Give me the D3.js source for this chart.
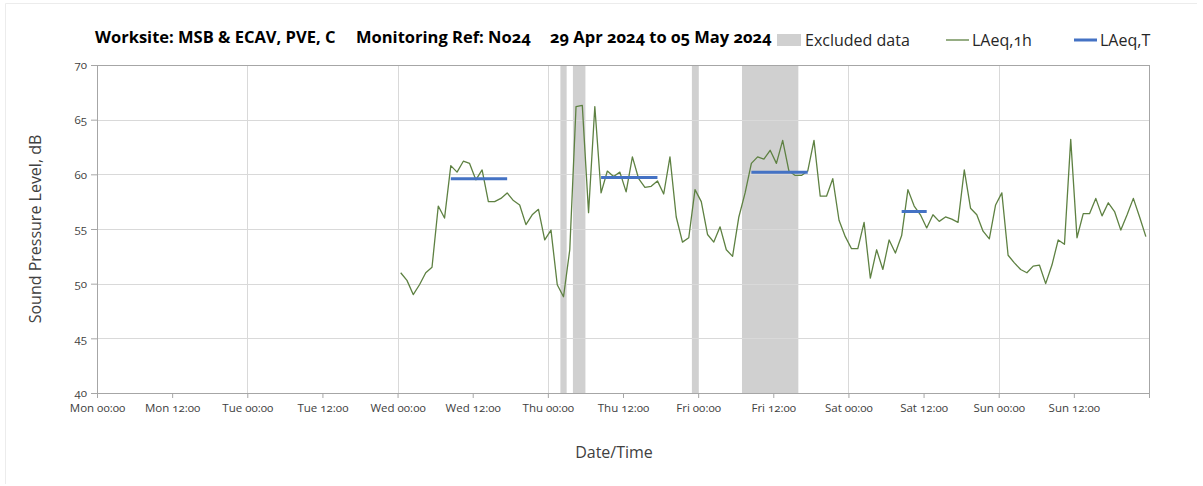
<!DOCTYPE html>
<html>
<head>
<meta charset="utf-8">
<script src="https://cdn.jsdelivr.net/npm/d3@7"></script>
<style>
  body { margin: 0; background: #fff; }
  svg text { font-family: "Open Sans", Lato, sans-serif; font-variant-numeric: oldstyle-nums; }
</style>
</head>
<body>
<div id="chart-area"></div>
<script>
/* Data */

// hourly LAeq,1h values, first hour starts Wed 01 May 2024 00:00
const laeq1hStart = new Date(2024, 4, 1, 0, 0)
const laeq1h = [
  51.0, 50.3, 49.0, 49.9, 51.0, 51.5, 57.1, 56.0, 60.8, 60.2, 61.2, 61.0,
  59.5, 60.4, 57.5, 57.5, 57.8, 58.3, 57.6, 57.2, 55.4, 56.3, 56.8, 54.0,
  54.9, 49.9, 48.8, 53.1, 66.2, 66.3, 56.5, 66.2, 58.3, 60.3, 59.8, 60.2,
  58.4, 61.6, 59.6, 58.8, 58.9, 59.4, 58.2, 61.6, 56.1, 53.8, 54.2, 58.6,
  57.5, 54.5, 53.8, 55.2, 53.1, 52.5, 56.1, 58.3, 61.0, 61.6, 61.4, 62.2,
  61.0, 63.1, 60.3, 59.9, 59.9, 60.3, 63.1, 58.0, 58.0, 59.6, 55.8, 54.3,
  53.2, 53.2, 55.6, 50.5, 53.1, 51.3, 54.0, 52.8, 54.4, 58.6, 57.1, 56.3,
  55.1, 56.3, 55.7, 56.1, 55.9, 55.6, 60.4, 56.9, 56.3, 54.8, 54.1, 57.2,
  58.3, 52.6, 51.9, 51.3, 51.0, 51.6, 51.7, 50.0, 51.7, 54.0, 53.6, 63.2,
  54.2, 56.4, 56.4, 57.8, 56.2, 57.4, 56.6, 54.9, 56.3, 57.8, 56.1, 54.3
]

// LAeq,T periods (first and last hour of each period)
const laeqTFrom = [new Date(2024, 4, 1, 8), new Date(2024, 4, 2, 8), new Date(2024, 4, 3, 8), new Date(2024, 4, 4, 8)]
const laeqTTo = [new Date(2024, 4, 1, 17), new Date(2024, 4, 2, 17), new Date(2024, 4, 3, 17), new Date(2024, 4, 4, 12)]
const laeqTValues = [59.6, 59.7, 60.2, 56.6]

// excluded data periods
const excludedFrom = [new Date(2024, 4, 2, 2), new Date(2024, 4, 2, 4), new Date(2024, 4, 2, 23), new Date(2024, 4, 3, 7)]
const excludedTo = [new Date(2024, 4, 2, 3), new Date(2024, 4, 2, 6), new Date(2024, 4, 3, 0), new Date(2024, 4, 3, 16)]

const yTicks = [40, 45, 50, 55, 60, 65, 70]
const titleParts = ["Worksite: MSB & ECAV, PVE, C", "Monitoring Ref: No24", "29 Apr 2024 to 05 May 2024"]
const legendLabels = ["Excluded data", "LAeq,1h", "LAeq,T"]

/* Chart area */

const W = 1203, H = 486
const PLOT = { LEFT: 97, RIGHT: 1149, TOP: 65, BOTTOM: 393 }
const HALF_HOUR = 30 * 60 * 1000

const svg = d3.select("#chart-area").append("svg")
  .attr("width", W)
  .attr("height", H)

// faint outer frame (top and left only, like the original)
svg.append("path")
  .attr("d", "M5.5,484 L5.5,3.5 L1197,3.5")
  .attr("fill", "none")
  .attr("stroke", "#ececec")

// scales
const x = d3.scaleTime()
  .domain([new Date(2024, 3, 29), new Date(2024, 4, 6)])
  .range([PLOT.LEFT, PLOT.RIGHT])
const y = d3.scaleLinear().domain([40, 70]).range([PLOT.BOTTOM, PLOT.TOP])

// hourly values are drawn at the middle of their hour
const xMid = d => x(new Date(+d + HALF_HOUR))

// excluded bands
svg.append("g").selectAll("rect")
  .data(d3.range(excludedFrom.length))
  .enter().append("rect")
  .attr("x", i => x(excludedFrom[i]))
  .attr("width", i => x(excludedTo[i]) - x(excludedFrom[i]))
  .attr("y", PLOT.TOP)
  .attr("height", PLOT.BOTTOM - PLOT.TOP)
  .attr("fill", "#d0d0d0")

// gridlines
svg.append("g").selectAll("line")
  .data(yTicks.slice(1, -1))
  .enter().append("line")
  .attr("x1", PLOT.LEFT).attr("x2", PLOT.RIGHT)
  .attr("y1", d => Math.round(y(d)) + 0.5).attr("y2", d => Math.round(y(d)) + 0.5)
  .attr("stroke", "#d9d9d9")

svg.append("g").selectAll("line")
  .data(d3.timeDay.range(new Date(2024, 3, 30), new Date(2024, 4, 6)))
  .enter().append("line")
  .attr("x1", d => Math.round(x(d)) + 0.5).attr("x2", d => Math.round(x(d)) + 0.5)
  .attr("y1", PLOT.TOP).attr("y2", PLOT.BOTTOM)
  .attr("stroke", "#d9d9d9")

// plot border
svg.append("rect")
  .attr("x", PLOT.LEFT + 0.5).attr("y", PLOT.TOP + 0.5)
  .attr("width", PLOT.RIGHT - PLOT.LEFT).attr("height", PLOT.BOTTOM - PLOT.TOP)
  .attr("fill", "none")
  .attr("stroke", "#a6a6a6")

// axes
const xAxisCall = d3.axisBottom(x)
  .ticks(d3.timeHour.every(12))
  .tickFormat(d3.timeFormat("%a %H:%M"))
  .tickSize(5)
  .tickSizeOuter(0)
const yAxisCall = d3.axisLeft(y)
  .tickValues(yTicks)
  .tickSize(6)
  .tickSizeOuter(0)

const xAxis = svg.append("g")
  .attr("transform", `translate(0, ${PLOT.BOTTOM})`)
  .call(xAxisCall)
xAxis.selectAll("text")
  .filter((d, i, n) => i === n.length - 1)
  .remove()
const yAxis = svg.append("g")
  .attr("transform", `translate(${PLOT.LEFT}, 0)`)
  .call(yAxisCall)

;[xAxis, yAxis].forEach(a => {
  a.select(".domain").attr("stroke", "#a6a6a6")
  a.selectAll(".tick line").attr("stroke", "#a6a6a6")
  a.selectAll(".tick text")
    .attr("fill", "#404040")
    .style("font-size", "11.5px")
})
xAxis.selectAll(".tick text").attr("y", 11)
yAxis.selectAll(".tick text").attr("x", -10)

// axis titles
svg.append("text")
  .attr("transform", "translate(41, 229) rotate(-90)")
  .attr("text-anchor", "middle")
  .attr("fill", "#404040")
  .style("font-size", "16px")
  .text("Sound Pressure Level, dB")

svg.append("text")
  .attr("x", 614).attr("y", 458)
  .attr("text-anchor", "middle")
  .attr("fill", "#404040")
  .style("font-size", "16px")
  .text("Date/Time")

// LAeq,1h line
const hourTimes = laeq1h.map((v, i) => d3.timeHour.offset(laeq1hStart, i))
const line = d3.line()
  .x((d, i) => xMid(hourTimes[i]))
  .y(d => y(d))

svg.append("path")
  .attr("d", line(laeq1h))
  .attr("fill", "none")
  .attr("stroke", "#5e8142")
  .attr("stroke-width", 1.3)
  .attr("stroke-linejoin", "round")

// LAeq,T lines
svg.append("g").selectAll("line")
  .data(laeqTValues)
  .enter().append("line")
  .attr("x1", (d, i) => xMid(laeqTFrom[i]))
  .attr("x2", (d, i) => xMid(laeqTTo[i]))
  .attr("y1", d => y(d)).attr("y2", d => y(d))
  .attr("stroke", "#4472c4")
  .attr("stroke-width", 3)

// title
const titleX = [95, 356, 550]
svg.append("g").selectAll("text")
  .data(titleParts)
  .enter().append("text")
  .attr("x", (d, i) => titleX[i])
  .attr("y", 43)
  .attr("fill", "#000")
  .style("font-size", "16.5px")
  .style("font-weight", "bold")
  .text(d => d)

// legend
const legend = svg.append("g")
legend.append("rect")
  .attr("x", 777).attr("y", 34).attr("width", 24).attr("height", 12)
  .attr("fill", "#d0d0d0")
legend.append("line")
  .attr("x1", 946).attr("x2", 969).attr("y1", 40).attr("y2", 40)
  .attr("stroke", "#5e8142").attr("stroke-width", 1.3)
legend.append("line")
  .attr("x1", 1074).attr("x2", 1097).attr("y1", 40).attr("y2", 40)
  .attr("stroke", "#4472c4").attr("stroke-width", 3)
const legendX = [805, 972, 1100]
legend.selectAll("text")
  .data(legendLabels)
  .enter().append("text")
  .attr("x", (d, i) => legendX[i])
  .attr("y", 46)
  .attr("fill", "#262626")
  .style("font-size", "16px")
  .text(d => d)
</script>
</body>
</html>
